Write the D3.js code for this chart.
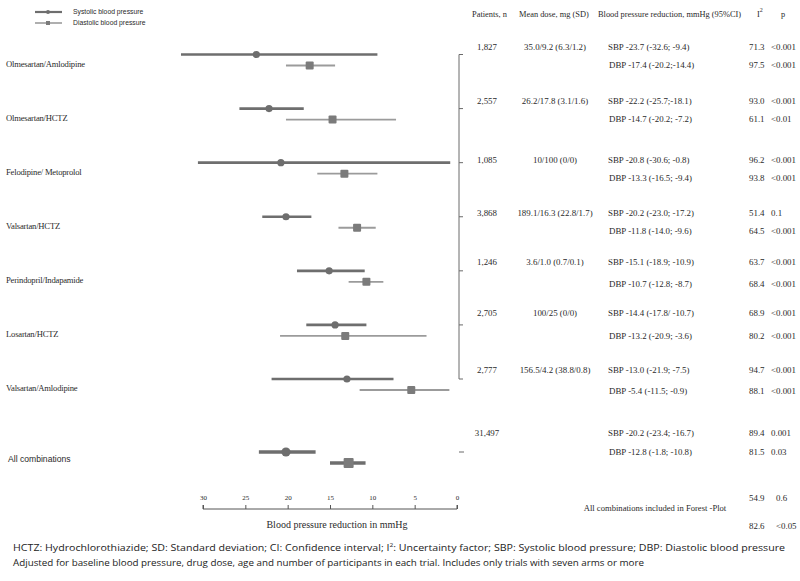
<!DOCTYPE html>
<html><head><meta charset="utf-8">
<script src="https://cdn.jsdelivr.net/npm/d3@7"></script>
<style>body{margin:0;background:#fff}svg{display:block}</style>
</head><body>
<svg id="c" width="800" height="581"></svg>
<script>
// ---------- DATA ----------
const categories = ["Olmesartan/Amlodipine","Olmesartan/HCTZ","Felodipine/ Metoprolol","Valsartan/HCTZ","Perindopril/Indapamide","Losartan/HCTZ","Valsartan/Amlodipine"];
const overallLabel = "All combinations";
// reduction magnitudes (mmHg) ; index 7 = all combinations
const sbpMean = [23.7,22.2,20.8,20.2,15.1,14.4,13.0,20.2];
const sbpLow  = [32.6,25.7,30.6,23.0,18.9,17.8,21.9,23.4];
const sbpHigh = [9.4,18.1,0.8,17.2,10.9,10.7,7.5,16.7];
const dbpMean = [17.4,14.7,13.3,11.8,10.7,13.2,5.4,12.8];
const dbpLow  = [20.2,20.2,16.5,14.0,12.8,20.9,11.5,15.0];
const dbpHigh = [14.4,7.2,9.4,9.6,8.7,3.6,0.9,10.8];
const patients = ["1,827","2,557","1,085","3,868","1,246","2,705","2,777","31,497"];
const doses = ["35.0/9.2 (6.3/1.2)","26.2/17.8 (3.1/1.6)","10/100 (0/0)","189.1/16.3 (22.8/1.7)","3.6/1.0 (0.7/0.1)","100/25 (0/0)","156.5/4.2 (38.8/0.8)",""];
const sbpText = ["SBP -23.7 (-32.6; -9.4)","SBP -22.2 (-25.7;-18.1)","SBP -20.8 (-30.6; -0.8)","SBP -20.2 (-23.0; -17.2)","SBP -15.1 (-18.9; -10.9)","SBP -14.4 (-17.8/ -10.7)","SBP -13.0 (-21.9; -7.5)","SBP -20.2 (-23.4; -16.7)"];
const dbpText = ["DBP -17.4 (-20.2;-14.4)","DBP -14.7 (-20.2; -7.2)","DBP -13.3 (-16.5; -9.4)","DBP -11.8 (-14.0; -9.6)","DBP -10.7 (-12.8; -8.7)","DBP -13.2 (-20.9; -3.6)","DBP -5.4 (-11.5; -0.9)","DBP -12.8 (-1.8; -10.8)"];
const sbpI2 = ["71.3","93.0","96.2","51.4","63.7","68.9","94.7","89.4"];
const sbpP  = ["<0.001","<0.001","<0.001","0.1","<0.001","<0.001","<0.001","0.001"];
const dbpI2 = ["97.5","61.1","93.8","64.5","68.4","80.2","88.1","81.5"];
const dbpP  = ["<0.001","<0.01","<0.001","<0.001","<0.001","<0.001","<0.001","0.03"];
const forestI2 = ["54.9","82.6"];
const forestP  = ["0.6","<0.05"];
const xTicks = [30,25,20,15,10,5,0];
const headers = ["Patients, n","Mean dose, mg (SD)","Blood pressure reduction, mmHg (95%CI)","I","p"];

// ---------- LAYOUT ----------
const svg = d3.select("#c");
const serif = "'Liberation Serif','Times New Roman',serif";
const sans = "'Liberation Sans',Arial,sans-serif";
const txt = "#2a2a2a";
const sbpCol = "#6e6e6e", dbpCol = "#9b9b9b", dbpMark = "#7b7b7b";

const x = d3.scaleLinear().domain([30,0]).range([203,457]);
const yGroup = d3.scalePoint().domain(d3.range(7)).range([54.5,379]);
const yOverall = 452;
const rowSbpY = i => i < 7 ? yGroup(i) : yOverall;
const dY = 11;
// table text row positions (layout)
const tabSbpY = [47,101,160,213,262,313,370,433];
const tabDbpY = [65,119,178,231,284,336,391,452];

// legend
const lg = svg.append("g");
[["Systolic blood pressure",12,sbpCol,2.2,"c"],["Diastolic blood pressure",23,dbpCol,1.6,"s"]].forEach(d=>{
  lg.append("line").attr("x1",35).attr("x2",62).attr("y1",d[1]).attr("y2",d[1]).attr("stroke",d[2]).attr("stroke-width",d[3]);
  if(d[4]==="c") lg.append("circle").attr("cx",48).attr("cy",d[1]).attr("r",2).attr("fill",sbpCol);
  else lg.append("rect").attr("x",46).attr("y",d[1]-2).attr("width",4).attr("height",4).attr("fill",dbpMark);
  lg.append("text").attr("x",73).attr("y",d[1]).attr("dy","0.35em").attr("font-family",sans).attr("font-size",6.8).attr("fill",txt).text(d[0]);
});

// headers
const hx = [472,519,598,757,781];
const hg = svg.append("g").attr("font-family",serif).attr("font-size",8.4).attr("fill",txt);
headers.forEach((h,i)=>{
  const t = hg.append("text").attr("x",hx[i]).attr("y",17).text(h);
  if(i===3) t.append("tspan").attr("font-size",6).attr("dy",-5).text("2");
});

// category labels
svg.append("g").selectAll("text").data(categories).join("text")
  .attr("x",6).attr("y",(d,i)=>yGroup(i)+9).attr("dy","0.35em")
  .attr("font-family",serif).attr("font-size",8.6).attr("fill",txt).attr("letter-spacing",-0.2).text(d=>d);
svg.append("text").attr("x",8).attr("y",yOverall+7).attr("dy","0.35em")
  .attr("font-family",sans).attr("font-size",8.6).attr("fill",txt).text(overallLabel);

// forest marks
const idx = d3.range(8);
const pg = svg.append("g");
pg.selectAll("line.s").data(idx).join("line").attr("class","s")
  .attr("x1",i=>x(sbpLow[i])).attr("x2",i=>x(sbpHigh[i]))
  .attr("y1",i=>rowSbpY(i)).attr("y2",i=>rowSbpY(i))
  .attr("stroke",sbpCol).attr("stroke-width",i=>i<7?2.6:3.6);
pg.selectAll("line.d").data(idx).join("line").attr("class","d")
  .attr("x1",i=>x(dbpLow[i])).attr("x2",i=>x(dbpHigh[i]))
  .attr("y1",i=>rowSbpY(i)+dY).attr("y2",i=>rowSbpY(i)+dY)
  .attr("stroke",i=>i<7?dbpCol:sbpCol).attr("stroke-width",i=>i<7?1.8:3.6);
pg.selectAll("circle").data(idx).join("circle")
  .attr("cx",i=>x(sbpMean[i])).attr("cy",i=>rowSbpY(i)).attr("r",i=>i<7?3.6:4.6).attr("fill",sbpCol);
pg.selectAll("rect").data(idx).join("rect")
  .attr("x",i=>x(dbpMean[i])-(i<7?4:5)).attr("y",i=>rowSbpY(i)+dY-(i<7?4:5))
  .attr("width",i=>i<7?8:10).attr("height",i=>i<7?8:10).attr("rx",1).attr("fill",dbpMark);

// bracket
const bg = svg.append("g").attr("stroke","#6a6a6a").attr("stroke-width",1);
bg.append("line").attr("x1",459).attr("x2",459).attr("y1",yGroup(0)).attr("y2",yGroup(6));
bg.selectAll("line.t").data(d3.range(7)).join("line").attr("class","t")
  .attr("x1",459).attr("x2",463).attr("y1",i=>yGroup(i)).attr("y2",i=>yGroup(i));
bg.append("line").attr("x1",459).attr("x2",464).attr("y1",yOverall).attr("y2",yOverall);

// axis
const ax = svg.append("g").attr("transform","translate(0,509)")
  .call(d3.axisTop(x).tickValues(xTicks).tickSize(4).tickPadding(5).tickFormat(d3.format("d")));
ax.select(".domain").attr("d",`M${x(30)},-4V0H${x(0)}V-4`).attr("stroke","#555");
ax.selectAll(".tick line").attr("stroke","#555");
ax.selectAll(".tick text").attr("font-family",serif).attr("font-size",7).attr("fill",txt);
svg.append("text").attr("x",337).attr("y",524).attr("dy","0.35em").attr("text-anchor","middle")
  .attr("font-family",serif).attr("font-size",10).attr("fill",txt).text("Blood pressure reduction in mmHg");

// table
const tg = svg.append("g").attr("font-family",serif).attr("font-size",8.9).attr("fill",txt);
idx.forEach(i=>{
  tg.append("text").attr("x",487).attr("y",tabSbpY[i]).attr("dy","0.35em").attr("text-anchor","middle").text(patients[i]);
  if(doses[i]) tg.append("text").attr("x",555).attr("y",tabSbpY[i]).attr("dy","0.35em").attr("text-anchor","middle").text(doses[i]);
  tg.append("text").attr("x",608).attr("y",tabSbpY[i]).attr("dy","0.35em").text(sbpText[i]);
  tg.append("text").attr("x",609).attr("y",tabDbpY[i]).attr("dy","0.35em").text(dbpText[i]);
  tg.append("text").attr("x",749).attr("y",tabSbpY[i]).attr("dy","0.35em").text(sbpI2[i]);
  tg.append("text").attr("x",749).attr("y",tabDbpY[i]).attr("dy","0.35em").text(dbpI2[i]);
  tg.append("text").attr("x",771).attr("y",tabSbpY[i]).attr("dy","0.35em").text(sbpP[i]);
  tg.append("text").attr("x",771).attr("y",tabDbpY[i]).attr("dy","0.35em").text(dbpP[i]);
});
tg.append("text").attr("x",655).attr("y",508).attr("dy","0.35em").attr("text-anchor","middle").attr("font-size",8.6).text("All combinations included in Forest -Plot");
[498,526].forEach((yy,k)=>{
  tg.append("text").attr("x",749).attr("y",yy).attr("dy","0.35em").text(forestI2[k]);
  tg.append("text").attr("x",776).attr("y",yy).attr("dy","0.35em").text(forestP[k]);
});

// footnotes
const fg = svg.append("g").attr("font-family","'Open Sans',sans-serif").attr("font-size",9.6).attr("fill","#222");
const f1 = fg.append("text").attr("x",13).attr("y",548).attr("dy","0.35em").attr("textLength",772).attr("lengthAdjust","spacingAndGlyphs");
f1.append("tspan").text("HCTZ: Hydrochlorothiazide; SD: Standard deviation; CI: Confidence interval; I");
f1.append("tspan").attr("font-size",6).attr("dy",-4).text("2");
f1.append("tspan").attr("dy",4).text(": Uncertainty factor; SBP: Systolic blood pressure; DBP: Diastolic blood pressure");
fg.append("text").attr("x",13).attr("y",563).attr("dy","0.35em").attr("textLength",631).attr("lengthAdjust","spacingAndGlyphs")
  .text("Adjusted for baseline blood pressure, drug dose, age and number of participants in each trial. Includes only trials with seven arms or more");
</script>
</body></html>
